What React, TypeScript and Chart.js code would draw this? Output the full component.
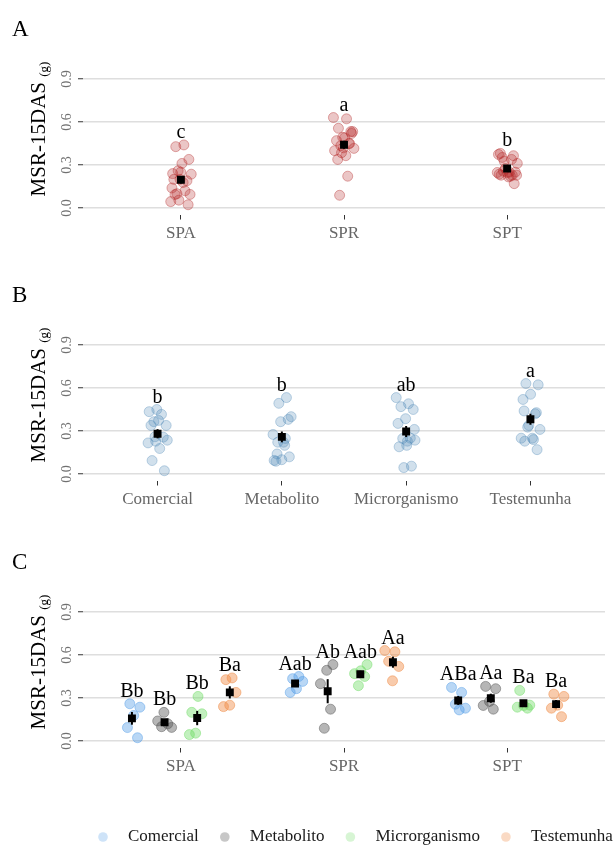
import { useEffect, useRef } from "react";
import { Chart, registerables } from "chart.js";
Chart.register(...registerables);

// ---------------- data ----------------
const sites = ["SPA", "SPR", "SPT"];
const treatments = ["Comercial", "Metabolito", "Microrganismo", "Testemunha"];
const yTicks = [0, 0.3, 0.6, 0.9];

// MSR-15DAS (g), 5 replicates per site x treatment
const spaComercial = [0.26, 0.236, 0.178, 0.094, 0.023];
const spaMetabolito = [0.2, 0.14, 0.12, 0.1, 0.095];
const spaMicrorganismo = [0.311, 0.2, 0.19, 0.055, 0.045];
const spaTestemunha = [0.44, 0.428, 0.339, 0.25, 0.24];

const sprComercial = [0.45, 0.435, 0.416, 0.365, 0.339];
const sprMetabolito = [0.533, 0.493, 0.4, 0.222, 0.089];
const sprMicrorganismo = [0.533, 0.49, 0.47, 0.45, 0.386];
const sprTestemunha = [0.631, 0.622, 0.556, 0.52, 0.42];

const sptComercial = [0.374, 0.339, 0.257, 0.229, 0.217];
const sptMetabolito = [0.381, 0.365, 0.276, 0.248, 0.222];
const sptMicrorganismo = [0.353, 0.25, 0.248, 0.236, 0.229];
const sptTestemunha = [0.327, 0.311, 0.25, 0.229, 0.17];

const lettersSite = ["c", "a", "b"];
const lettersTreatment = ["b", "b", "ab", "a"];
const lettersSPA = ["Bb", "Bb", "Bb", "Ba"];
const lettersSPR = ["Aab", "Ab", "Aab", "Aa"];
const lettersSPT = ["ABa", "Aa", "Ba", "Ba"];

// ---------------- helpers ----------------
const SERIF = "'Liberation Serif', 'Times New Roman', serif";
const table = [
  [spaComercial, spaMetabolito, spaMicrorganismo, spaTestemunha],
  [sprComercial, sprMetabolito, sprMicrorganismo, sprTestemunha],
  [sptComercial, sptMetabolito, sptMicrorganismo, sptTestemunha],
];
const lettersC = [lettersSPA, lettersSPR, lettersSPT];

const treatColors = [
  { fill: "rgba(80,155,230,0.40)", border: "rgba(80,155,230,0.45)", key: "rgba(80,155,230,0.28)" },
  { fill: "rgba(80,80,80,0.42)", border: "rgba(80,80,80,0.45)", key: "rgba(80,80,80,0.32)" },
  { fill: "rgba(110,220,100,0.42)", border: "rgba(110,220,100,0.45)", key: "rgba(110,220,100,0.28)" },
  { fill: "rgba(240,140,70,0.45)", border: "rgba(240,140,70,0.5)", key: "rgba(240,140,70,0.32)" },
];

type Group = { cx: number; values: number[]; letter: string; mean: number; se: number };
type Series = { name: string; fill: string; border: string; points: { x: number; y: number }[] };
type PanelSpec = {
  label: string;
  cats: string[];
  height: number;
  series: Series[];
  groups: Group[];
  legend: boolean;
};

function stats(values: number[]) {
  const n = values.length;
  const mean = values.reduce((a, b) => a + b, 0) / n;
  const sd = Math.sqrt(values.reduce((a, b) => a + (b - mean) ** 2, 0) / (n - 1));
  return { mean, se: sd / Math.sqrt(n) };
}

function jitter(k: number, w: number) {
  const f = (k * 0.6180339887 + 0.37) % 1;
  return (f - 0.5) * 2 * w;
}

function buildA(): PanelSpec {
  let k = 0;
  const pts: { x: number; y: number }[] = [];
  const groups = sites.map((s, i) => {
    const values = table[i].flat();
    values.forEach((v) => pts.push({ x: i + 1 + jitter(k++, 0.065), y: v }));
    return { cx: i + 1, values, letter: lettersSite[i], ...stats(values) };
  });
  return {
    label: "A",
    cats: sites,
    height: 266,
    series: [{ name: "site", fill: "rgba(178,34,34,0.26)", border: "rgba(178,34,34,0.36)", points: pts }],
    groups,
    legend: false,
  };
}

function buildB(): PanelSpec {
  let k = 0;
  const pts: { x: number; y: number }[] = [];
  const groups = treatments.map((t, j) => {
    const values = table.map((r) => r[j]).flat();
    values.forEach((v) => pts.push({ x: j + 1 + jitter(k++, 0.08), y: v }));
    return { cx: j + 1, values, letter: lettersTreatment[j], ...stats(values) };
  });
  return {
    label: "B",
    cats: treatments,
    height: 267,
    series: [{ name: "trat", fill: "rgba(70,130,180,0.25)", border: "rgba(70,130,180,0.33)", points: pts }],
    groups,
    legend: false,
  };
}

function buildC(): PanelSpec {
  let k = 0;
  const groups: Group[] = [];
  const series: Series[] = treatments.map((t, j) => ({
    name: t,
    fill: treatColors[j].fill,
    border: treatColors[j].border,
    points: [],
  }));
  sites.forEach((s, i) => {
    treatments.forEach((t, j) => {
      const values = table[i][j];
      const cx = i + 1 + (j - 1.5) * 0.2;
      values.forEach((v) => series[j].points.push({ x: cx + jitter(k++, 0.05), y: v }));
      groups.push({ cx, values, letter: lettersC[i][j], ...stats(values) });
    });
  });
  return { label: "C", cats: sites, height: 314, series, groups, legend: true };
}

const AREA_TOP = 72.5;
const AREA_BOTTOM = 214.5;
const XAXIS_H = 30;

function decorPlugin(spec: PanelSpec) {
  return {
    id: "decor" + spec.label,
    beforeDatasetDraw(chart: any, args: any) {
      if (args.index !== 0) return;
      const { ctx } = chart;
      const x = chart.scales.x;
      const y = chart.scales.y;
      ctx.save();
      ctx.strokeStyle = "#000";
      ctx.lineWidth = 2;
      spec.groups.forEach((g) => {
        const px = x.getPixelForValue(g.cx);
        ctx.beginPath();
        ctx.moveTo(px, y.getPixelForValue(g.mean - g.se));
        ctx.lineTo(px, y.getPixelForValue(g.mean + g.se));
        ctx.stroke();
      });
      ctx.restore();
    },
    afterDraw(chart: any) {
      const { ctx, chartArea } = chart;
      const x = chart.scales.x;
      const y = chart.scales.y;
      // letters
      ctx.save();
      ctx.fillStyle = "#000";
      ctx.font = `20px ${SERIF}`;
      ctx.textAlign = "center";
      ctx.textBaseline = "middle";
      spec.groups.forEach((g) => {
        const top = Math.max(...g.values) + 0.085;
        ctx.fillText(g.letter, x.getPixelForValue(g.cx), y.getPixelForValue(top));
      });
      ctx.restore();

      // panel label
      ctx.save();
      ctx.fillStyle = "#000";
      ctx.font = `23px ${SERIF}`;
      ctx.textAlign = "left";
      ctx.textBaseline = "alphabetic";
      ctx.fillText(spec.label, 12, 36);
      ctx.restore();

      // y tick labels (rotated)
      yTicks.forEach((v) => {
        ctx.save();
        ctx.translate(70.5, y.getPixelForValue(v));
        ctx.rotate(-Math.PI / 2);
        ctx.font = `14px ${SERIF}`;
        ctx.fillStyle = "#707070";
        ctx.textAlign = "center";
        ctx.textBaseline = "alphabetic";
        ctx.fillText(v.toFixed(1), 0, 0);
        ctx.restore();
      });

      // y title with subscript
      ctx.save();
      ctx.font = `21px ${SERIF}`;
      const main = "MSR-15DAS ";
      const w1 = ctx.measureText(main).width;
      ctx.font = `13px ${SERIF}`;
      const w2 = ctx.measureText("(g)").width;
      const cy = chartArea.top + 56.5;
      ctx.translate(45, cy + (w1 + w2) / 2);
      ctx.rotate(-Math.PI / 2);
      ctx.fillStyle = "#000";
      ctx.textAlign = "left";
      ctx.textBaseline = "alphabetic";
      ctx.font = `21px ${SERIF}`;
      ctx.fillText(main, 0, 0);
      ctx.font = `13px ${SERIF}`;
      ctx.fillText("(g)", w1, 3);
      ctx.restore();

      // legend
      if (spec.legend) {
        ctx.save();
        ctx.font = `17px ${SERIF}`;
        ctx.textBaseline = "middle";
        ctx.textAlign = "left";
        let px = 103;
        const ly = 304;
        treatments.forEach((t, j) => {
          ctx.beginPath();
          ctx.arc(px, ly, 4.8, 0, Math.PI * 2);
          ctx.fillStyle = treatColors[j].key;
          ctx.fill();
          ctx.fillStyle = "#1a1a1a";
          ctx.fillText(t, px + 25, ly);
          px = px + 25 + ctx.measureText(t).width + 26;
        });
        ctx.restore();
      }
    },
  };
}

function makeConfig(spec: PanelSpec): any {
  const datasets: any[] = [
    {
      label: "mean",
      data: spec.groups.map((g) => ({ x: g.cx, y: g.mean })),
      pointStyle: "rect",
      pointRadius: 5.6,
      backgroundColor: "#000",
      borderColor: "#000",
      borderWidth: 0,
      order: 0,
    },
    ...spec.series.map((s) => ({
      label: s.name,
      data: s.points,
      pointStyle: "circle",
      pointRadius: 5,
      backgroundColor: s.fill,
      borderColor: s.border,
      borderWidth: 1,
      order: 1,
    })),
  ];
  const n = spec.cats.length;
  return {
    type: "scatter",
    data: { datasets },
    options: {
      animation: false,
      responsive: false,
      maintainAspectRatio: false,
      events: [],
      layout: {
        padding: { left: 0, right: 9, top: AREA_TOP, bottom: spec.height - AREA_BOTTOM - XAXIS_H },
      },
      plugins: { legend: { display: false }, tooltip: { enabled: false } },
      scales: {
        x: {
          type: "linear",
          min: 0.4,
          max: n + 0.6,
          afterBuildTicks: (axis: any) => {
            axis.ticks = spec.cats.map((_, i) => ({ value: i + 1 }));
          },
          afterFit: (axis: any) => {
            axis.height = XAXIS_H;
          },
          grid: {
            drawOnChartArea: false,
            drawTicks: true,
            tickLength: 5,
            tickColor: "#333",
            tickWidth: 1,
          },
          border: { display: false },
          ticks: {
            autoSkip: false,
            maxRotation: 0,
            minRotation: 0,
            padding: 4,
            color: "#666",
            font: { family: SERIF, size: 17 },
            callback: (v: number) => spec.cats[Math.round(v) - 1] ?? "",
          },
        },
        y: {
          type: "linear",
          min: -0.045,
          max: 0.945,
          afterBuildTicks: (axis: any) => {
            axis.ticks = yTicks.map((v) => ({ value: v }));
          },
          afterFit: (axis: any) => {
            axis.width = 83;
          },
          grid: {
            color: "#dedede",
            lineWidth: 1.5,
            drawTicks: true,
            tickLength: 5,
            tickColor: "#333",
            tickWidth: 1,
          },
          border: { display: false },
          ticks: { display: false },
        },
      },
    },
    plugins: [decorPlugin(spec)],
  };
}

function Panel({ spec, top }: { spec: PanelSpec; top: number }) {
  const ref = useRef<HTMLCanvasElement | null>(null);
  useEffect(() => {
    if (!ref.current) return;
    const chart = new Chart(ref.current, makeConfig(spec));
    return () => chart.destroy();
  }, [spec]);
  return (
    <canvas
      ref={ref}
      width={614}
      height={spec.height}
      style={{ position: "absolute", left: 0, top, width: 614, height: spec.height }}
    />
  );
}

const specA = buildA();
const specB = buildB();
const specC = buildC();

export default function App() {
  useEffect(() => {
    document.body.style.margin = "0";
  }, []);
  return (
    <div style={{ position: "relative", width: 614, height: 847, overflow: "hidden", background: "#fff" }}>
      <Panel spec={specA} top={0} />
      <Panel spec={specB} top={266} />
      <Panel spec={specC} top={533} />
    </div>
  );
}
